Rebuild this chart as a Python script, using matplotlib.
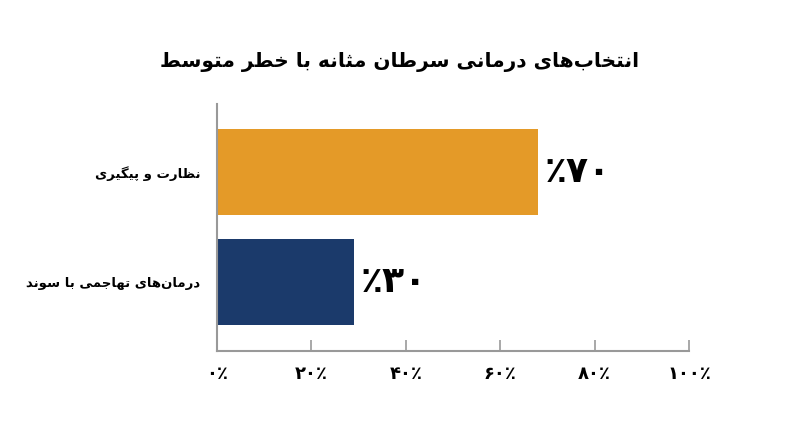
import matplotlib
matplotlib.use('Agg')
import matplotlib.pyplot as plt

title = 'انتخاب‌های درمانی سرطان مثانه با خطر متوسط'
categories = ['درمان‌های تهاجمی با سوند', 'نظارت و پیگیری']
values = [29, 68]
bar_labels = ['٪۳۰', '٪۷۰']
colors = ['#1B3A6B', '#E49A28']
xticks = [0, 20, 40, 60, 80, 100]
xtick_labels = ['۰٪', '۲۰٪', '۴۰٪', '۶۰٪', '۸۰٪', '۱۰۰٪']

# isolated, final, initial, medial
FORMS = {
    'ا': ('\uFE8D', '\uFE8E', None, None),
    'ب': ('\uFE8F', '\uFE90', '\uFE91', '\uFE92'),
    'ت': ('\uFE95', '\uFE96', '\uFE97', '\uFE98'),
    'ث': ('\uFE99', '\uFE9A', '\uFE9B', '\uFE9C'),
    'ج': ('\uFE9D', '\uFE9E', '\uFE9F', '\uFEA0'),
    'خ': ('\uFEA5', '\uFEA6', '\uFEA7', '\uFEA8'),
    'د': ('\uFEA9', '\uFEAA', None, None),
    'ر': ('\uFEAD', '\uFEAE', None, None),
    'س': ('\uFEB1', '\uFEB2', '\uFEB3', '\uFEB4'),
    'ط': ('\uFEC1', '\uFEC2', '\uFEC3', '\uFEC4'),
    'ظ': ('\uFEC5', '\uFEC6', '\uFEC7', '\uFEC8'),
    'م': ('\uFEE1', '\uFEE2', '\uFEE3', '\uFEE4'),
    'ن': ('\uFEE5', '\uFEE6', '\uFEE7', '\uFEE8'),
    'ه': ('\uFEE9', '\uFEEA', '\uFEEB', '\uFEEC'),
    'و': ('\uFEED', '\uFEEE', None, None),
    'ی': ('\uFBFC', '\uFBFD', '\uFBFE', '\uFBFF'),
    'پ': ('\uFB56', '\uFB57', '\uFB58', '\uFB59'),
    'گ': ('\uFB92', '\uFB93', '\uFB94', '\uFB95'),
}


def shape(text):
    # simple arabic shaping + reversal, matplotlib has no bidi
    out = []
    for i, ch in enumerate(text):
        if ch not in FORMS:
            if ch != '\u200c':
                out.append(ch)
            continue
        prev = text[i - 1] if i > 0 else ''
        nxt = text[i + 1] if i + 1 < len(text) else ''
        join_prev = prev in FORMS and FORMS[prev][2] is not None
        join_next = FORMS[ch][2] is not None and nxt in FORMS
        iso, fin, ini, med = FORMS[ch]
        if join_prev and join_next:
            out.append(med)
        elif join_prev:
            out.append(fin)
        elif join_next:
            out.append(ini)
        else:
            out.append(iso)
    return ''.join(out)[::-1]


plt.rcParams['font.family'] = ['DejaVu Sans']
plt.rcParams['font.weight'] = 'bold'

fig = plt.figure(figsize=(8, 4.47), dpi=100)
ax = fig.add_axes([0.27125, 0.2148, 0.59, 0.5525])

ypos = list(range(len(categories)))
ax.barh(ypos, values, height=0.79, color=colors)
for y, v, lab in zip(ypos, values, bar_labels):
    ax.text(v + 1.5, y, lab, fontsize=26, fontweight='bold',
            ha='left', va='center', color='black')

ax.set_xlim(0, 100)
ax.set_ylim(-0.627, 1.618)
ax.set_yticks(ypos)
ax.set_yticklabels([shape(c) for c in categories], fontsize=9.5, fontweight='bold')
ax.tick_params(axis='y', length=0, pad=12)
ax.set_xticks(xticks)
ax.set_xticklabels(xtick_labels, fontsize=13, fontweight='bold')
ax.tick_params(axis='x', direction='in', length=8, width=1.2, color='#999999', pad=10)

for s in ['top', 'right']:
    ax.spines[s].set_visible(False)
for s in ['left', 'bottom']:
    ax.spines[s].set_color('#999999')
    ax.spines[s].set_linewidth(1.5)

fig.text(0.5, 0.862, shape(title), fontsize=14.5, fontweight='bold',
         ha='center', va='center')

fig.savefig('out.png', dpi=100, facecolor='white')
